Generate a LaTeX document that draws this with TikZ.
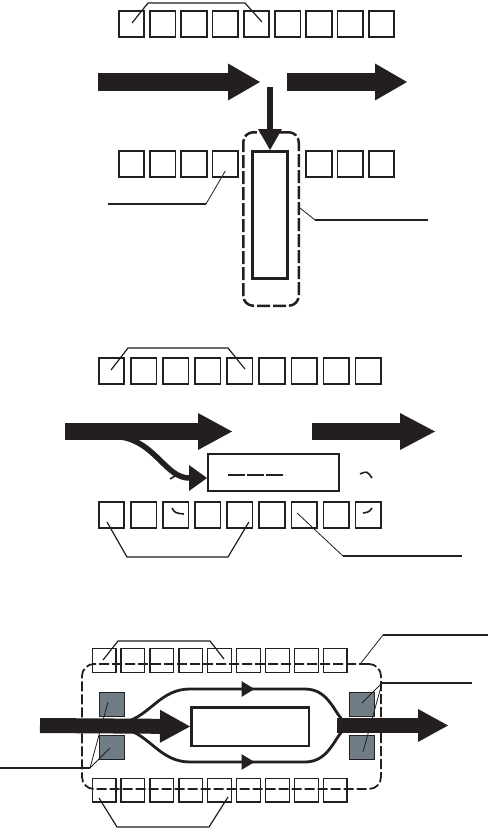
\documentclass[tikz,border=0pt]{standalone}
\usepackage{xcolor}
\usepackage{tikz}
\usetikzlibrary{arrows.meta, decorations.markings}

\definecolor{ink}{RGB}{35,31,32}
\definecolor{slate}{RGB}{112,124,134}

\begin{document}
\begin{tikzpicture}[
    x=1pt, y=-1pt,
    cell/.style={draw=ink, line width=1.6pt, minimum size=25.5pt, inner sep=0pt},
    tinycell/.style={draw=ink, line width=1.3pt, minimum size=23.7pt, inner sep=0pt},
    block/.style={draw=ink, fill=slate, line width=1.3pt, minimum width=24.7pt,
                  minimum height=23.7pt, inner sep=0pt},
    frame/.style={draw=ink, line width=2.5pt, inner sep=0pt},
    wrap/.style={draw=ink, dash pattern=on 12pt off 3pt, line width=2.2pt,
                 rounded corners=10pt, inner sep=0pt},
    lead/.style={draw=ink, line width=0.8pt},
    brace/.style={draw=ink, line width=1.2pt},
    shelf/.style={draw=ink, line width=2pt},
    nick/.style={draw=ink, line width=1.6pt},
  ]
  \useasboundingbox (0,0) rectangle (489,828);

  % ============ Panel 1: cells with an inserted column ============
  \foreach \i in {1,...,9}
    \node[cell] (ta\i) at ({131.5+31.25*(\i-1)},24) {};
  \foreach \i in {1,2,3,4,7,8,9}
    \node[cell] (tb\i) at ({131.5+31.25*(\i-1)},164) {};

  \node[wrap, line width=2.5pt, dash pattern=on 13pt off 3pt,
        minimum width=55.5pt, minimum height=173.5pt] (hold) at (271,219) {};
  \node[frame, line width=3pt, minimum width=35pt, minimum height=127pt] (col) at (270,215) {};

  \coordinate (inA) at (98,82);   \coordinate (inB) at (260,82);
  \coordinate (outA) at (287,82); \coordinate (outB) at (407,82);
  \coordinate (drop) at (270,87);
  \draw[ink, line width=18pt, -{Triangle[length=32pt, width=37pt, line width=0pt]}] (inA) -- (inB);
  \draw[ink, line width=18pt, -{Triangle[length=32pt, width=37pt, line width=0pt]}] (outA) -- (outB);
  \draw[ink, line width=6pt, -{Triangle[length=21pt, width=24pt, line width=0pt]}] (drop) -- (col.north);

  \draw[brace] ([shift={(0.5,-1)}]ta1.center) -- ++(16,-20) -- ++(97,0)
    -- ([shift={(5.5,-2)}]ta5.center);

  \coordinate (lbA) at (206,204); \coordinate (lbB) at (108,204);
  \draw[lead] ([shift={(0,7)}]tb4.center) -- (lbA);
  \draw[shelf] (lbA) -- (lbB);

  \coordinate (rbA) at (315,220); \coordinate (rbB) at (428,220);
  \draw[lead] ([shift={(0,-11)}]hold.east) -- (rbA);
  \draw[shelf] (rbA) -- (rbB);

  % ============ Panel 2: side unit ============
  \foreach \i in {1,...,9} {
    \node[cell] (ma\i) at ({111.5+32.1*(\i-1)},371) {};
    \node[cell] (mb\i) at ({111.5+32.1*(\i-1)},515) {};
  }

  \node[frame, line width=2pt, minimum width=131pt, minimum height=37pt] (unit) at (273.5,472.5) {};
  \draw[ink, line width=1.4pt, dash pattern=on 17pt off 2pt]
    ([shift={(-45.5,2.5)}]unit.center) -- ([shift={(11.5,2.5)}]unit.center);

  \coordinate (inC) at (65,431.5);   \coordinate (inD) at (232,431.5);
  \coordinate (outC) at (312,431.5); \coordinate (outD) at (435,431.5);
  \coordinate (tap) at (121,437);
  \draw[ink, line width=5.5pt, -{Triangle[length=18pt, width=26pt, line width=0pt]}]
    (tap) .. controls (155,442) and (166,478) .. ([shift={(0,5.5)}]unit.west);
  \draw[ink, line width=17pt, -{Triangle[length=34pt, width=37pt, line width=0pt]}] (inC) -- (inD);
  \draw[ink, line width=17pt, -{Triangle[length=35pt, width=37pt, line width=0pt]}] (outC) -- (outD);

  % small marks
  \draw[nick] (170,479) -- (175,476);
  \draw[nick] (360,474) .. controls (367,471) .. (372,478);
  \draw[nick] (172,508) .. controls (175,513) .. (184,514);
  \draw[nick] (363,513) .. controls (369,512) .. (372,508);

  \draw[brace] ([shift={(-0.5,-1)}]ma1.center) -- ++(17,-22) -- ++(100,0)
    -- ([shift={(5,-2)}]ma5.center);
  \draw[brace] ([shift={(-4.5,7)}]mb1.center) -- ++(20,35) -- ++(101,0)
    -- ([shift={(9,7)}]mb5.center);

  \coordinate (rmA) at (343,556); \coordinate (rmB) at (462,556);
  \draw[lead] ([shift={(-7,-2)}]mb7.center) -- (rmA);
  \draw[shelf] (rmA) -- (rmB);

  % ============ Panel 3: bypass ============
  \node[wrap, line width=1.8pt, dash pattern=on 10pt off 3pt, rounded corners=12pt,
        minimum width=299pt, minimum height=125pt] (shell) at (231.5,726.5) {};

  \foreach \i in {1,...,9} {
    \node[tinycell] (ba\i) at ({104+28.9*(\i-1)},660.5) {};
    \node[tinycell] (bb\i) at ({104+28.9*(\i-1)},790) {};
  }

  \node[block] (lu) at (112,704.5) {};
  \node[block] (ld) at (112,747.5) {};
  \node[block] (ru) at (362,704.5) {};
  \node[block] (rd) at (362,747.5) {};

  \node[frame, minimum width=117.5pt, minimum height=38.5pt] (core) at (250,726.5) {};

  \draw[brace] ([shift={(-1,-0.5)}]ba1.center) -- ++(15,-19) -- ++(92,0)
    -- ([shift={(4.4,-1.5)}]ba5.center);
  \draw[brace] ([shift={(-5,8)}]bb1.center) -- ++(18,29) -- ++(92,0)
    -- ([shift={(8.4,7)}]bb5.center);

  \coordinate (lq) at (90,768); \coordinate (lqEnd) at (0,768);
  \draw[shelf] (lqEnd) -- (lq);
  \draw[lead] (lq) -- ([shift={(-4,-2.5)}]lu.center);
  \draw[lead] (lq) -- ([shift={(-2,0.5)}]ld.center);

  \coordinate (rtA) at (383,635); \coordinate (rtB) at (488,635);
  \draw[lead] ([shift={(-21,0)}]shell.north east) -- (rtA);
  \draw[shelf] (rtA) -- (rtB);

  \coordinate (rq) at (382,683); \coordinate (rqEnd) at (472,683);
  \draw[shelf] (rq) -- (rqEnd);
  \draw[lead] (rq) -- ([shift={(0,-1.5)}]ru.center);
  \draw[lead] (rq) -- ([shift={(1,4.5)}]rd.center);

  \coordinate (split) at (125,722);  \coordinate (merge) at (345,722);
  \coordinate (split2) at (125,729); \coordinate (merge2) at (345,729);
  \tikzset{flow/.style={draw=ink, line width=2.8pt, postaction={decorate},
      decoration={markings, mark=at position 0.57 with {\arrow{Triangle[length=13pt, width=15pt]}}}}}
  \draw[flow] (split) .. controls (150,716) and (160,689) .. (190,689) -- (305,689)
    .. controls (330,689) and (335,716) .. (merge);
  \draw[flow] (split2) .. controls (150,735) and (160,762) .. (190,762) -- (305,762)
    .. controls (330,762) and (335,735) .. (merge2);

  \coordinate (feed) at (40,725.5);
  \coordinate (vent) at (337,725.5); \coordinate (ventEnd) at (448,725.5);
  \draw[ink, line width=15pt, -{Triangle[length=30pt, width=33pt, line width=0pt]}] (feed) -- (core.west);
  \draw[ink, line width=15pt, -{Triangle[length=30pt, width=33pt, line width=0pt]}] (vent) -- (ventEnd);

\end{tikzpicture}
\end{document}
